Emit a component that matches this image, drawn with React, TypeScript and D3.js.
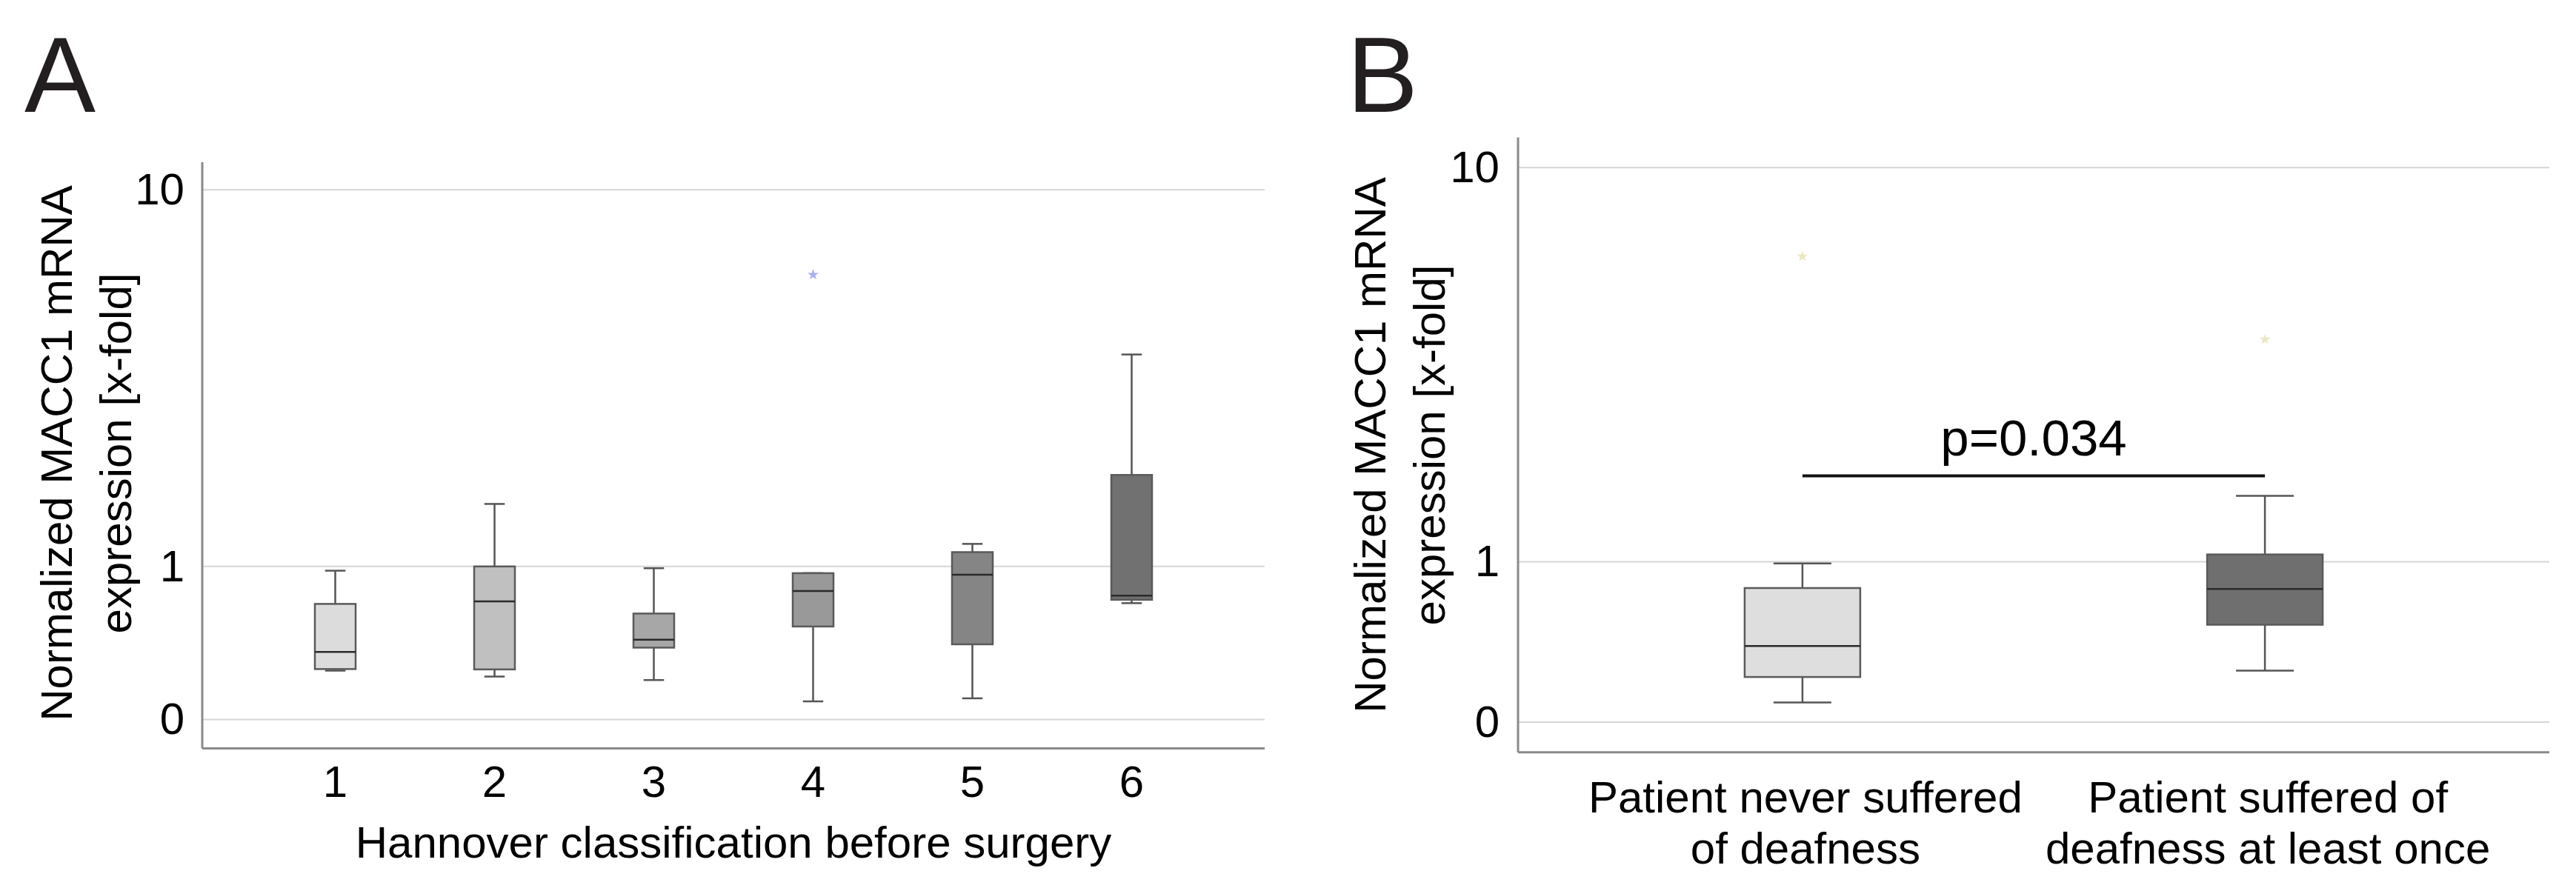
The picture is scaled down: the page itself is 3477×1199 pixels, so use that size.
import { useEffect, useRef } from 'react';
import * as d3 from 'd3';

// Panel A: MACC1 expression by Hannover classification
const hannoverGroups = ['1', '2', '3', '4', '5', '6'];
const hannoverLow = [0.248, 0.215, 0.196, 0.086, 0.101, 0.694];
const hannoverQ1 = [0.257, 0.255, 0.385, 0.524, 0.406, 0.72];
const hannoverMedian = [0.358, 0.708, 0.436, 0.789, 0.926, 0.752];
const hannoverQ3 = [0.688, 1.0, 0.616, 0.94, 1.134, 2.026];
const hannoverHigh = [0.962, 1.654, 0.984, 0.94, 1.215, 4.22];
const hannoverOutliers = [{ group: '4', value: 6.49 }];
const hannoverFills = ['#dcdcdc', '#c0c0c0', '#a7a7a7', '#999999', '#858585', '#717171'];

// Panel B: MACC1 expression by deafness history
const deafGroups = ['never', 'once'];
const deafLabels = [
  ['Patient never suffered', 'of deafness'],
  ['Patient suffered of', 'deafness at least once'],
];
const deafLow = [0.088, 0.249];
const deafQ1 = [0.215, 0.523];
const deafMedian = [0.389, 0.778];
const deafQ3 = [0.785, 1.064];
const deafHigh = [0.985, 1.66];
const deafOutliers = [
  { group: 'never', value: 6.49 },
  { group: 'once', value: 4.23 },
];
const deafFills = ['#dedede', '#6f6f6f'];
const pValueText = 'p=0.034';
const pBarValue = 1.9;

const yTicks = [0, 1, 10];
const yTitle = ['Normalized MACC1 mRNA', 'expression [x-fold]'];

const FONT = "Arial, 'Liberation Sans', Helvetica, sans-serif";

interface PanelOpts {
  groups: string[];
  low: number[];
  q1: number[];
  median: number[];
  q3: number[];
  high: number[];
  fills: string[];
  outliers: { group: string; value: number }[];
  outlierColor: string;
  left: number;
  right: number;
  axisTop: number;
  axisBottom: number;
  y0: number;
  y10: number;
  padding: number;
  boxWidth: number;
  tickRight: number;
  titleX: [number, number];
  titleY: number;
}

function drawPanel(svg: d3.Selection<SVGSVGElement, unknown, null, undefined>, o: PanelOpts) {
  const g = svg.append('g');

  const x = d3.scalePoint<string>().domain(o.groups).range([o.left, o.right]).padding(o.padding);
  const y = d3.scaleSymlog().constant(1).domain([0, 10]).range([o.y0, o.y10]);

  // grid lines
  g.selectAll('line.grid')
    .data(yTicks)
    .join('line')
    .attr('x1', o.left)
    .attr('x2', o.right)
    .attr('y1', d => y(d))
    .attr('y2', d => y(d))
    .attr('stroke', '#d6d6d6')
    .attr('stroke-width', 2);

  // tick labels
  g.selectAll('text.ytick')
    .data(yTicks)
    .join('text')
    .attr('x', o.tickRight)
    .attr('y', d => y(d))
    .attr('dy', '0.33em')
    .attr('text-anchor', 'end')
    .attr('font-size', 60)
    .attr('font-family', FONT)
    .text(d => String(d));

  // axes
  g.append('line')
    .attr('x1', o.left)
    .attr('x2', o.left)
    .attr('y1', o.axisTop)
    .attr('y2', o.axisBottom)
    .attr('stroke', '#8a8a8a')
    .attr('stroke-width', 3);
  g.append('line')
    .attr('x1', o.left)
    .attr('x2', o.right)
    .attr('y1', o.axisBottom)
    .attr('y2', o.axisBottom)
    .attr('stroke', '#8a8a8a')
    .attr('stroke-width', 3);

  // y title
  yTitle.forEach((line, i) => {
    g.append('text')
      .attr('transform', `translate(${o.titleX[i]},${o.titleY}) rotate(-90)`)
      .attr('text-anchor', 'middle')
      .attr('font-size', 60)
      .attr('font-family', FONT)
      .text(line);
  });

  // boxes
  const bw = o.boxWidth;
  o.groups.forEach((grp, i) => {
    const cx = x(grp) as number;
    const stroke = '#555555';
    // whiskers
    g.append('line')
      .attr('x1', cx).attr('x2', cx)
      .attr('y1', y(o.high[i])).attr('y2', y(o.q3[i]))
      .attr('stroke', stroke).attr('stroke-width', 2.5);
    g.append('line')
      .attr('x1', cx).attr('x2', cx)
      .attr('y1', y(o.q1[i])).attr('y2', y(o.low[i]))
      .attr('stroke', stroke).attr('stroke-width', 2.5);
    [o.high[i], o.low[i]].forEach(v => {
      g.append('line')
        .attr('x1', cx - bw / 4).attr('x2', cx + bw / 4)
        .attr('y1', y(v)).attr('y2', y(v))
        .attr('stroke', stroke).attr('stroke-width', 2.5);
    });
    g.append('rect')
      .attr('x', cx - bw / 2)
      .attr('width', bw)
      .attr('y', y(o.q3[i]))
      .attr('height', y(o.q1[i]) - y(o.q3[i]))
      .attr('fill', o.fills[i])
      .attr('stroke', '#5a5a5a')
      .attr('stroke-width', 2.5);
    g.append('line')
      .attr('x1', cx - bw / 2).attr('x2', cx + bw / 2)
      .attr('y1', y(o.median[i])).attr('y2', y(o.median[i]))
      .attr('stroke', '#2a2a2a').attr('stroke-width', 2.5);
  });

  // outliers
  const star = d3.symbol().type(d3.symbolStar).size(70);
  g.selectAll('path.outlier')
    .data(o.outliers)
    .join('path')
    .attr('d', star as any)
    .attr('transform', d => `translate(${x(d.group)},${y(d.value)})`)
    .attr('fill', o.outlierColor);

  return { x, y, g };
}

export default function App() {
  const svgRef = useRef<SVGSVGElement>(null);

  useEffect(() => {
    if (!svgRef.current) return;
    const svg = d3.select(svgRef.current);
    svg.selectAll('*').remove();

    // ---- Panel A
    const a = drawPanel(svg, {
      groups: hannoverGroups,
      low: hannoverLow,
      q1: hannoverQ1,
      median: hannoverMedian,
      q3: hannoverQ3,
      high: hannoverHigh,
      fills: hannoverFills,
      outliers: hannoverOutliers,
      outlierColor: '#aab2ee',
      left: 273,
      right: 1707,
      axisTop: 219,
      axisBottom: 1010.5,
      y0: 971.6,
      y10: 256.3,
      padding: 0.835,
      boxWidth: 55,
      tickRight: 249,
      titleX: [96.7, 176.7],
      titleY: 612,
    });

    a.g.selectAll('text.xtick')
      .data(hannoverGroups)
      .join('text')
      .attr('x', d => a.x(d) as number)
      .attr('y', 1075.7)
      .attr('text-anchor', 'middle')
      .attr('font-size', 60)
      .attr('font-family', FONT)
      .text(d => d);

    a.g.append('text')
      .attr('x', 990)
      .attr('y', 1158.3)
      .attr('text-anchor', 'middle')
      .attr('font-size', 60)
      .attr('font-family', FONT)
      .text('Hannover classification before surgery');

    svg.append('text')
      .attr('x', 33)
      .attr('y', 151)
      .attr('font-size', 144)
      .attr('font-family', FONT)
      .attr('fill', '#231f20')
      .text('A');

    // ---- Panel B
    const b = drawPanel(svg, {
      groups: deafGroups,
      low: deafLow,
      q1: deafQ1,
      median: deafMedian,
      q3: deafQ3,
      high: deafHigh,
      fills: deafFills,
      outliers: deafOutliers,
      outlierColor: '#ebe7c4',
      left: 2049,
      right: 3441,
      axisTop: 185.6,
      axisBottom: 1015.7,
      y0: 974.9,
      y10: 226.2,
      padding: 0.615,
      boxWidth: 156,
      tickRight: 2024,
      titleX: [1870, 1950],
      titleY: 601,
    });

    deafGroups.forEach((grp, i) => {
      deafLabels[i].forEach((line, j) => {
        b.g.append('text')
          .attr('x', (b.x(grp) as number) + 4)
          .attr('y', 1097.3 + j * 68.4)
          .attr('text-anchor', 'middle')
          .attr('font-size', 60)
          .attr('font-family', FONT)
          .text(line);
      });
    });

    // significance bar
    const x1 = b.x(deafGroups[0]) as number;
    const x2 = b.x(deafGroups[1]) as number;
    const yBar = b.y(pBarValue);
    b.g.append('line')
      .attr('x1', x1)
      .attr('x2', x2)
      .attr('y1', yBar)
      .attr('y2', yBar)
      .attr('stroke', '#111111')
      .attr('stroke-width', 4);
    b.g.append('text')
      .attr('x', (x1 + x2) / 2)
      .attr('y', yBar - 27)
      .attr('text-anchor', 'middle')
      .attr('font-size', 69)
      .attr('font-family', FONT)
      .text(pValueText);

    svg.append('text')
      .attr('x', 1818)
      .attr('y', 150.6)
      .attr('font-size', 144)
      .attr('font-family', FONT)
      .attr('fill', '#231f20')
      .text('B');
  }, []);

  return (
    <svg
      ref={svgRef}
      width={3477}
      height={1199}
      style={{ position: 'absolute', left: 0, top: 0, background: '#ffffff' }}
    />
  );
}
